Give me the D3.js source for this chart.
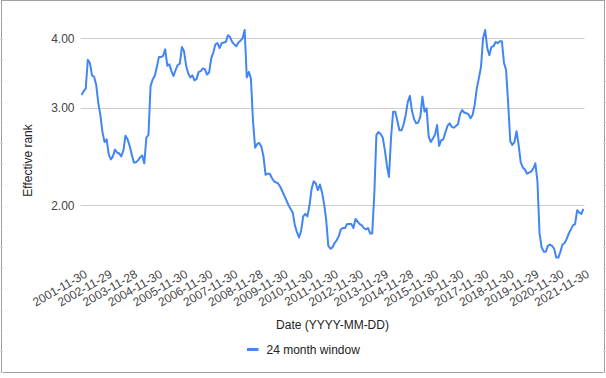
<!DOCTYPE html>
<html><head><meta charset="utf-8">
<script src="https://cdn.jsdelivr.net/npm/d3@7"></script>
<style>
html,body{margin:0;padding:0;background:#fff;}
svg text{font-family:"Liberation Sans",Arial,sans-serif;}
</style></head>
<body><svg id="c" width="606" height="378"></svg>
<script>
// ---- data ----
const seriesName = "24 month window";
const xTitle = "Date (YYYY-MM-DD)";
const yTitle = "Effective rank";
const tickLabels = ["2001-11-30","2002-11-29","2003-11-28","2004-11-30","2005-11-30","2006-11-30","2007-11-30","2008-11-28","2009-11-30","2010-11-30","2011-11-30","2012-11-30","2013-11-29","2014-11-28","2015-11-30","2016-11-30","2017-11-30","2018-11-30","2019-11-29","2020-11-30","2021-11-30"];
const yTicks = [2, 3, 4];
// monthly values, Nov 2001 .. Nov 2021
const values = [
3.16,3.21,3.25,3.66,3.61,3.43,3.41,3.30,3.06,2.91,2.71,2.60,
2.63,2.47,2.42,2.45,2.52,2.49,2.48,2.45,2.51,2.67,2.63,2.56,
2.47,2.39,2.39,2.41,2.44,2.46,2.38,2.65,2.68,3.28,3.37,3.42,
3.55,3.70,3.70,3.72,3.82,3.57,3.59,3.49,3.42,3.51,3.58,3.60,
3.86,3.79,3.57,3.46,3.40,3.43,3.36,3.38,3.48,3.49,3.53,3.52,
3.44,3.47,3.68,3.77,3.90,3.92,3.84,3.92,3.93,3.94,4.05,4.02,
3.94,3.90,3.87,3.93,3.96,4.00,4.14,3.40,3.48,3.38,2.83,2.54,
2.58,2.59,2.55,2.45,2.27,2.28,2.28,2.24,2.21,2.20,2.19,2.16,
2.12,2.08,2.04,2.00,1.97,1.94,1.84,1.79,1.75,1.80,1.91,1.93,
1.91,2.00,2.14,2.21,2.19,2.13,2.18,2.11,2.01,1.88,1.69,1.67,
1.68,1.71,1.73,1.76,1.81,1.82,1.82,1.85,1.85,1.85,1.82,1.89,
1.87,1.85,1.84,1.82,1.81,1.82,1.78,1.78,2.10,2.68,2.71,2.69,
2.65,2.52,2.36,2.25,2.65,2.95,2.95,2.84,2.73,2.73,2.80,2.91,
3.07,3.15,2.96,2.86,2.81,2.82,2.89,3.14,2.95,2.99,2.66,2.60,
2.64,2.68,2.79,2.56,2.62,2.63,2.71,2.78,2.81,2.77,2.76,2.78,
2.80,2.92,2.97,2.94,2.93,2.92,2.87,2.91,3.04,3.25,3.39,3.55,
4.00,4.14,3.84,3.73,3.86,3.87,3.94,3.92,3.95,3.95,3.61,3.51,
3.05,2.61,2.57,2.60,2.72,2.57,2.39,2.34,2.32,2.28,2.29,2.30,
2.33,2.38,2.21,1.78,1.68,1.65,1.65,1.69,1.70,1.69,1.67,1.61,
1.61,1.65,1.70,1.71,1.74,1.78,1.81,1.84,1.85,1.96,1.94,1.93,
1.97
];

// ---- chart ----
const svg = d3.select("#c");
const left = 80.5, right = 584.5;

// frame
svg.append("rect").attr("x",1.5).attr("y",0.5).attr("width",603).attr("height",372)
  .attr("fill","none").attr("stroke","#a0a0a0").attr("stroke-width",1);
const frameTicks = d3.range(18.3, 372, 20.8);
svg.append("g").selectAll("line").data(frameTicks).join("line")
  .attr("x1",0).attr("x2",3).attr("y1",d=>Math.round(d)+0.5).attr("y2",d=>Math.round(d)+0.5)
  .attr("stroke","#d6d6d6");
svg.append("g").selectAll("line").data(frameTicks.filter(d=>d>50)).join("line")
  .attr("x1",603).attr("x2",606).attr("y1",d=>Math.round(d)+0.5).attr("y2",d=>Math.round(d)+0.5)
  .attr("stroke","#d6d6d6");

const idx = d3.range(values.length);
const x = d3.scalePoint().domain(idx).range([left, right]).padding(0.5);
const y = d3.scaleLog().domain([2, 4]).range([205.3, 38.3]);

// gridlines
svg.append("g").selectAll("line").data(yTicks).join("line")
  .attr("x1", left).attr("x2", right)
  .attr("y1", d => Math.round(y(d)) + 0.5).attr("y2", d => Math.round(y(d)) + 0.5)
  .attr("stroke", "#cccccc").attr("stroke-width", 1);

// y tick labels
svg.append("g").selectAll("text").data(yTicks).join("text")
  .attr("x", 74.5).attr("y", d => y(d) + 4.3)
  .attr("text-anchor", "end").attr("font-size", 12).attr("fill", "#444")
  .text(d => d3.format(".2f")(d));

// x tick labels
const tickIdx = tickLabels.map((t, k) => k * 12);
svg.append("g").selectAll("text").data(tickIdx).join("text")
  .attr("transform", (d) => `translate(${x(d) + 6.5},276.5) rotate(-30)`)
  .attr("text-anchor", "end").attr("font-size", 12).attr("fill", "#444")
  .text((d, k) => tickLabels[k]);

// line
const line = d3.line().x((d, i) => x(i)).y(d => y(d));
svg.append("path").datum(values).attr("d", line)
  .attr("fill", "none").attr("stroke", "#4285f4").attr("stroke-width", 2)
  .attr("stroke-linejoin", "round");

// axis titles
svg.append("text").attr("x", (left + right) / 2).attr("y", 328.5)
  .attr("text-anchor", "middle").attr("font-size", 12).attr("fill", "#222").text(xTitle);
svg.append("text").attr("transform", "translate(31.5,160.5) rotate(-90)")
  .attr("text-anchor", "middle").attr("font-size", 12).attr("fill", "#222").text(yTitle);

// legend
svg.append("rect").attr("x", 247).attr("y", 348).attr("width", 11.5).attr("height", 3)
  .attr("fill", "#4285f4");
svg.append("text").attr("x", 266.5).attr("y", 353.5).attr("font-size", 12)
  .attr("fill", "#222").text(seriesName);
</script></body></html>
